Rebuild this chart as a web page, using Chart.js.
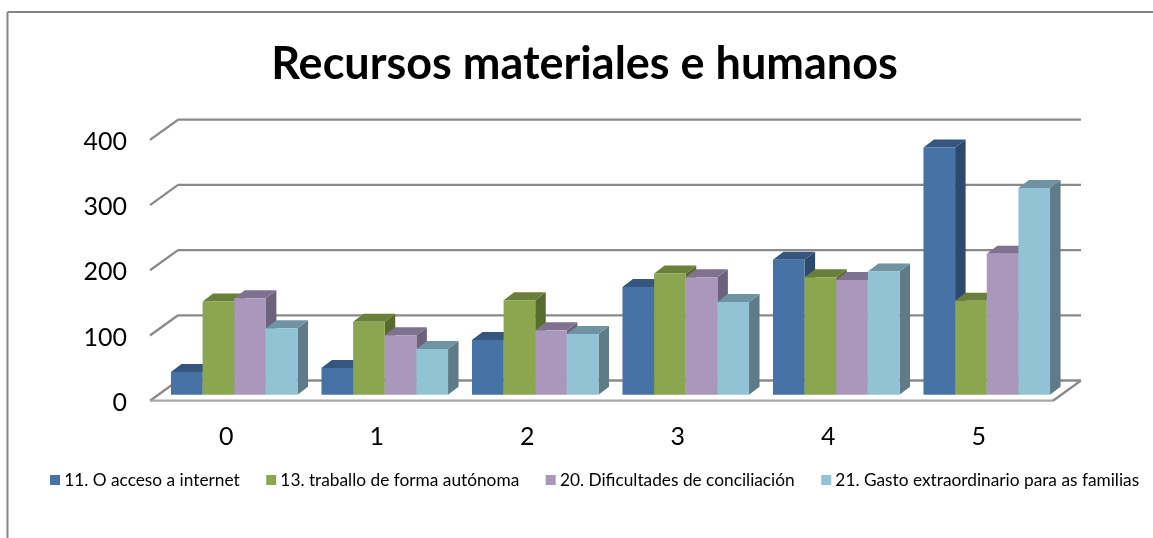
<!DOCTYPE html>
<html>
<head>
<meta charset="utf-8">
<script src="https://cdn.jsdelivr.net/npm/chart.js@4"></script>
<style>
html, body { margin: 0; padding: 0; background: #fff; }
#wrap { width: 1153px; height: 538px; }
</style>
</head>
<body>
<div id="wrap"><canvas id="myChart" width="1153" height="538"></canvas></div>
<script>
var categories = ["0", "1", "2", "3", "4", "5"];
var seriesNames = [
    "11. O acceso a internet",
    "13. traballo de forma autónoma",
    "20. Dificultades de conciliación",
    "21. Gasto extraordinario para as familias"
];
var acceso = [35, 41, 84, 165, 207, 379];
var traballo = [143, 112, 145, 186, 180, 144];
var conciliacion = [148, 91, 99, 180, 176, 216];
var gasto = [102, 70, 93, 142, 189, 317];

var frontColors = ["#4672A6", "#8AA64F", "#A998BC", "#92C3D5"];
var topColors = ["#34567F", "#6A7F3A", "#7F7290", "#6E94A4"];
var sideColors = ["#2C4A6E", "#596C30", "#6C627C", "#5E7B87"];

var gridColor = "#8A8A8A";
var fontName = "Lato, Carlito, sans-serif";

// depth of the 3d look, in pixels from the plane the bars stand on
var frontShift = { x: -9, y: 6 };
var backShift = { x: 19, y: -14.2 };
var barDepth = { x: 10.5, y: -8 };

function line(ctx, x1, y1, x2, y2) {
    ctx.beginPath();
    ctx.moveTo(x1, y1);
    ctx.lineTo(x2, y2);
    ctx.stroke();
}

function face(ctx, color, pts) {
    ctx.fillStyle = color;
    ctx.beginPath();
    ctx.moveTo(pts[0][0], pts[0][1]);
    for (var i = 1; i < pts.length; i++) ctx.lineTo(pts[i][0], pts[i][1]);
    ctx.closePath();
    ctx.fill();
}

var wall3d = {
    id: "wall3d",
    afterLayout: function(chart) {
        // title and legend are not centred on the canvas in the original
        chart.titleBlock.left += 16;
        chart.legend.left += 23.5;
        chart.legend.right += 60; // or the last item wraps off the canvas
        chart.legend.top -= 11; // its padding would clip the x labels otherwise
    },
    beforeDatasetsDraw: function(chart) {
        var ctx = chart.ctx, a = chart.chartArea, y = chart.scales.y;
        ctx.save();
        // outer frame, only top and left are inside the picture
        ctx.strokeStyle = "#868686";
        ctx.lineWidth = 2;
        line(ctx, 7.5, 538, 7.5, 12);
        line(ctx, 7.5, 12, 1153, 12);

        ctx.strokeStyle = gridColor;
        ctx.lineWidth = 2.3;
        y.ticks.forEach(function(t) {
            var py = y.getPixelForValue(t.value);
            var fx = a.left + frontShift.x, fy = py + frontShift.y;
            var bx = a.left + backShift.x, by = py + backShift.y;
            line(ctx, fx, fy, bx, by);
            line(ctx, bx, by, a.right + backShift.x, by);
        });
        // floor
        var y0 = y.getPixelForValue(0);
        ctx.strokeStyle = "#A6A6A6";
        line(ctx, a.left + frontShift.x, y0 + frontShift.y, a.right + frontShift.x, y0 + frontShift.y);
        ctx.strokeStyle = gridColor;
        line(ctx, a.right + frontShift.x, y0 + frontShift.y, a.right + backShift.x, y0 + backShift.y);
        ctx.restore();
    },
    beforeDatasetDraw: function() {
        return false;
    },
    afterDatasetsDraw: function(chart) {
        var ctx = chart.ctx;
        // series in order, so each bar hides the side of the one before
        chart.data.datasets.forEach(function(ds, s) {
            chart.getDatasetMeta(s).data.forEach(function(el) {
                var p = el.getProps(["x", "y", "base", "width"], true);
                var l = p.x - p.width / 2, r = p.x + p.width / 2;
                var dx = barDepth.x, dy = barDepth.y;
                face(ctx, sideColors[s], [[r, p.y], [r + dx, p.y + dy], [r + dx, p.base + dy], [r, p.base]]);
                face(ctx, topColors[s], [[l, p.y], [l + dx, p.y + dy], [r + dx, p.y + dy], [r, p.y]]);
                el.draw(ctx);
            });
        });
    }
};

var seriesValues = [acceso, traballo, conciliacion, gasto];

var myChart = new Chart(document.getElementById("myChart"), {
    type: "bar",
    data: {
        labels: categories,
        datasets: seriesNames.map(function(name, i) {
            return { label: name, data: seriesValues[i], backgroundColor: frontColors[i] };
        })
    },
    options: {
        responsive: false,
        animation: false,
        layout: { padding: { left: 0, right: 0, top: 0, bottom: 28.35 } },
        datasets: { bar: { categoryPercentage: 0.841, barPercentage: 1 } },
        scales: {
            x: {
                grid: { display: false, drawTicks: false },
                border: { display: false },
                afterFit: function(s) { s.height = 56.65; },
                ticks: {
                    color: "#000",
                    padding: 27,
                    labelOffset: -8,
                    maxRotation: 0,
                    font: { family: fontName, size: 25 }
                }
            },
            y: {
                min: 0,
                max: 400,
                grid: { display: false, drawTicks: false },
                border: { display: false },
                afterFit: function(s) { s.width = 159; },
                ticks: {
                    stepSize: 100,
                    color: "#000",
                    padding: 32,
                    labelOffset: 8,
                    font: { family: fontName, size: 25 }
                }
            },
            // empty axis, keeps the plot off the right edge
            spacer: {
                position: "right",
                grid: { display: false, drawTicks: false },
                border: { display: false },
                ticks: { display: false },
                afterFit: function(s) { s.width = 91; }
            }
        },
        plugins: {
            title: {
                display: true,
                text: "Recursos materiales e humanos",
                color: "#000",
                padding: { top: 37, bottom: 42.9 },
                font: { family: fontName, size: 45, weight: "bold", lineHeight: 1.2 }
            },
            legend: {
                display: true,
                position: "bottom",
                align: "start",
                labels: {
                    color: "#000",
                    boxWidth: 1,
                    boxHeight: 1,
                    padding: 31,
                    font: { family: fontName, size: 17.3 },
                    generateLabels: function(chart) {
                        return Chart.defaults.plugins.legend.labels.generateLabels(chart).map(function(item) {
                            item.strokeStyle = item.fillStyle;
                            item.lineWidth = 9;
                            return item;
                        });
                    }
                }
            },
            tooltip: { enabled: false }
        }
    },
    plugins: [wall3d]
});
</script>
</body>
</html>
